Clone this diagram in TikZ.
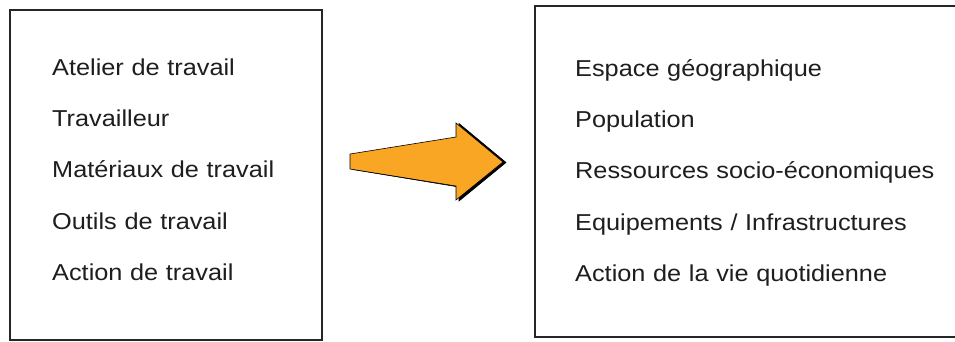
\documentclass[tikz,border=0pt]{standalone}
\usepackage{fontspec}
\newfontfamily\itemfont{Liberation Sans}[FakeStretch=1.1]
\usepackage{xcolor}
\usepackage{tikz}
\usetikzlibrary{positioning}

\definecolor{arroworange}{RGB}{248,166,36}
\definecolor{inktext}{RGB}{30,30,30}

\begin{document}
\begin{tikzpicture}[
    x=1pt, y=-1pt,
    node distance=29pt,
    % Styles
    panel/.style={
        rectangle,
        draw=black!85,
        line width=1.6pt,
        fill=white,
        outer sep=0pt,
        anchor=north west
    },
    item/.style={
        inner sep=0pt,
        text width=370pt,
        align=left,
        text height=17pt,
        text depth=5pt,
        text=inktext,
        font=\itemfont\fontsize{23}{27}\selectfont
    },
    bigarrow/.style={
        fill=arroworange,
        draw=black,
        line width=0.6pt,
        line join=miter
    },
    arrowshade/.style={
        fill=black,
        draw=black,
        line width=0.6pt
    }
]
\useasboundingbox (0,0) rectangle (955,341);

% --- Boxes ---
\node[panel, minimum width=312pt, minimum height=330pt] (TravailBox) at (10,10) {};
\node[panel, minimum width=421pt, minimum height=331pt] (EspaceBox) at (535,6) {};

% --- Left column ---
\node[item, anchor=base west] (Atelier) at (52,75) {Atelier de travail};
\node[item, below=of Atelier] (Travailleur) {Travailleur};
\node[item, below=of Travailleur] (Materiaux) {Matériaux de travail};
\node[item, below=of Materiaux] (Outils) {Outils de travail};
\node[item, below=of Outils] (ActionTravail) {Action de travail};

% --- Right column ---
\node[item, anchor=base west] (Espace) at (575,76) {Espace géographique};
\node[item, below=of Espace] (Population) {Population};
\node[item, below=of Population] (Ressources) {Ressources socio-économiques};
\node[item, below=of Ressources] (Equipements) {Equipements / Infrastructures};
\node[item, below=of Equipements] (ActionVie) {Action de la vie quotidienne};

% --- Arrow ---
\draw[arrowshade] (353,154.5) -- (459,137.5) -- (459,123.5) -- (506,162.5)
    -- (459,201) -- (459,187) -- (353,169.5) -- cycle;
\draw[bigarrow] (350,154) -- (456,137) -- (456,123) -- (503,162)
    -- (456,200) -- (456,186) -- (350,169) -- cycle;

\end{tikzpicture}
\end{document}
